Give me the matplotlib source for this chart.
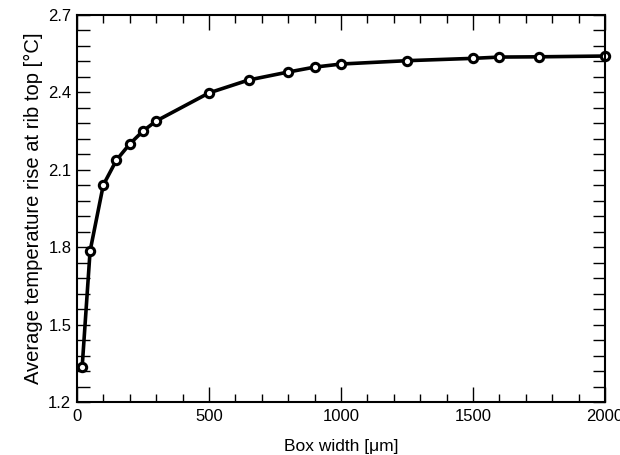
import matplotlib
matplotlib.use('Agg')
import matplotlib.pyplot as plt
from matplotlib.ticker import MultipleLocator

plt.rcParams['font.family'] = ['Liberation Sans', 'DejaVu Sans']

# box width [um] vs average temperature rise [C]
box_width = [20, 50, 100, 150, 200, 250, 300, 500, 650, 800, 900, 1000,
             1250, 1500, 1600, 1750, 2000]
temp_rise = [1.336, 1.785, 2.041, 2.138, 2.200, 2.250, 2.289, 2.398, 2.448,
             2.479, 2.498, 2.510, 2.523, 2.532, 2.537, 2.538, 2.541]

fig = plt.figure(figsize=(6.2, 4.55), dpi=100)
ax = fig.add_axes([0.124, 0.1165, 0.852, 0.8505])

ax.plot(box_width, temp_rise, color='black', lw=2.6, marker='o', ms=6,
        mfc='white', mec='black', mew=2.2, clip_on=False)

ax.set_xlim(0, 2000)
ax.set_ylim(1.2, 2.7)
ax.xaxis.set_major_locator(MultipleLocator(500))
ax.xaxis.set_minor_locator(MultipleLocator(100))
ax.yaxis.set_major_locator(MultipleLocator(0.3))
ax.yaxis.set_minor_locator(MultipleLocator(0.06))
ax.set_yticks([1.2, 1.5, 1.8, 2.1, 2.4, 2.7])
ax.set_yticklabels(['1.2', '1.5', '1.8', '2.1', '2.4', '2.7'])

ax.tick_params(which='both', direction='in', top=True, right=True,
               labelsize=12, width=1)
ax.tick_params(axis='x', which='major', length=11, pad=5)
ax.tick_params(axis='x', which='minor', length=6)
ax.tick_params(axis='y', which='major', length=9, pad=4)
ax.tick_params(axis='y', which='minor', length=9)
for s in ax.spines.values():
    s.set_linewidth(1.5)

ax.set_xlabel('Box width [\u03bcm]', fontsize=12.5, labelpad=11)
ax.set_ylabel('Average temperature rise at rib top [\u00b0C]', fontsize=14.5,
              labelpad=4)

fig.savefig('out.png', dpi=100)
